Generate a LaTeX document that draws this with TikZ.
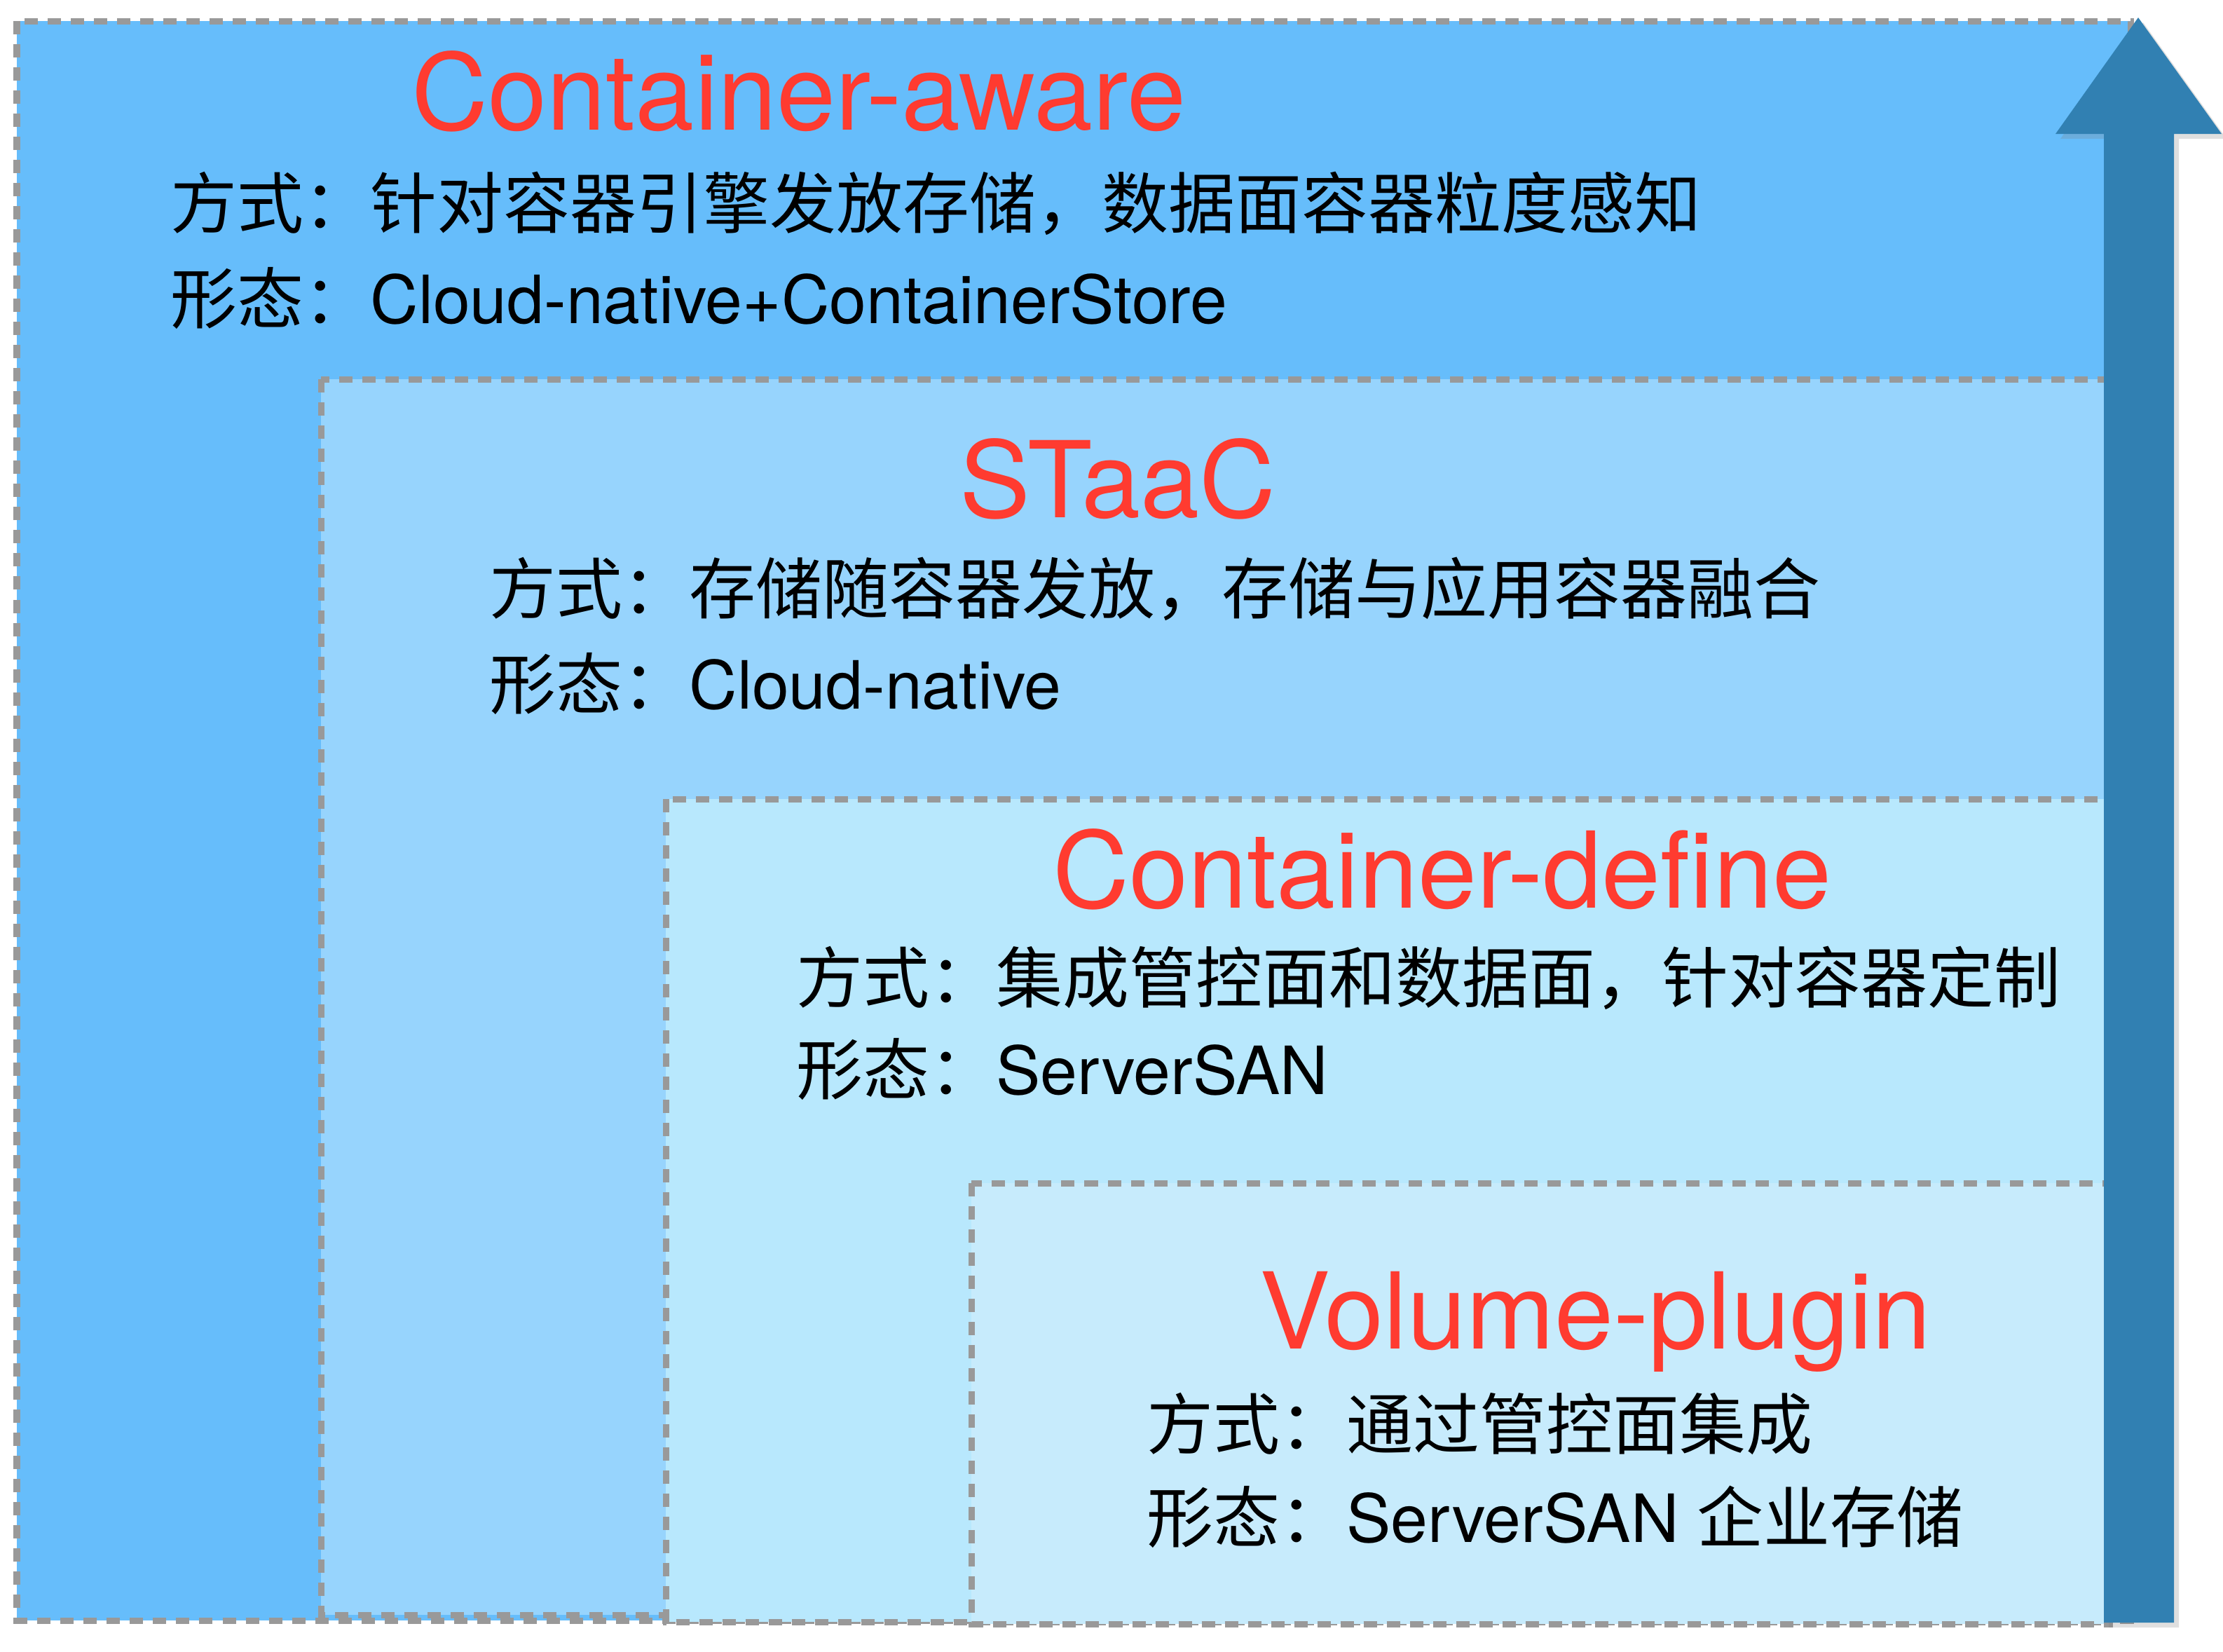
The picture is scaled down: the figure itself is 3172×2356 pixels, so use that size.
\documentclass[tikz,border=0pt]{standalone}
\usepackage{fontspec}
\setmainfont{TeX Gyre Heros}
\newfontfamily\cjk{Noto Sans CJK SC}
\usetikzlibrary{shadows}
\definecolor{awareBlue}{HTML}{66BDFB}
\definecolor{staacBlue}{HTML}{97D4FD}
\definecolor{defineBlue}{HTML}{B8E8FD}
\definecolor{pluginBlue}{HTML}{C7EBFC}
\definecolor{arrowBlue}{HTML}{3180B2}
\definecolor{dashGray}{HTML}{999999}
\definecolor{titleRed}{HTML}{FF3B30}
\tikzset{
  layerbox/.style={draw=dashGray, line width=0.09cm, dash pattern=on 0.19cm off 0.14cm},
  heading/.style={text=titleRed, font=\fontsize{43}{50}\selectfont, inner sep=0pt, anchor=base},
  desc/.style={font=\fontsize{27}{32}\selectfont, inner sep=0pt, anchor=west},
}

\begin{document}
\begin{tikzpicture}[x=0.01cm, y=-0.01cm]
			%%%%% START %%%%%
			\useasboundingbox (0, 0) rectangle (3172, 2356);
			
			\draw[layerbox, fill=awareBlue] (24, 30) rectangle (3040, 2312);
			\draw[layerbox, fill=staacBlue] (458, 541) rectangle (3010, 2304);
			\draw[layerbox, fill=defineBlue] (950, 1140) rectangle (3010, 2314);
			\draw[layerbox, fill=pluginBlue] (1386, 1688) rectangle (3010, 2317);
			
			\node[heading] (awareTitle) at (1140, 185) {Container-aware};
			\node[desc] (awareWay) at (243, 290) {\cjk 方式：针对容器引擎发放存储，数据面容器粒度感知};
			\node[desc] (awareForm) at (243, 425) {{\cjk 形态：}Cloud-native+ContainerStore};
			
			\node[heading] (staacTitle) at (1595, 738) {STaaC};
			\node[desc] (staacWay) at (698, 840) {\cjk 方式：存储随容器发放，存储与应用容器融合};
			\node[desc] (staacForm) at (698, 975) {{\cjk 形态：}Cloud-native};
			
			\node[heading] (defineTitle) at (2058, 1295) {Container-define};
			\node[desc] (defineWay) at (1136, 1395) {\cjk 方式：集成管控面和数据面，针对容器定制};
			\node[desc] (defineForm) at (1136, 1525) {{\cjk 形态：}ServerSAN};
			
			\node[heading] (pluginTitle) at (2277, 1924) {Volume-plugin};
			\node[desc] (pluginWay) at (1636, 2031) {\cjk 方式：通过管控面集成};
			\node[desc] (pluginForm) at (1636, 2164) {{\cjk 形态：}ServerSAN {\cjk 企业存储}};
			
			\fill[arrowBlue, drop shadow={shadow xshift=2pt, shadow yshift=-2pt, opacity=0.25}]
				(3002, 2315) -- (3002, 191) -- (2933, 191) -- (3051, 25)
				-- (3170, 191) -- (3102, 191) -- (3102, 2315) -- cycle;
			
			%%%%% END %%%%%
\end{tikzpicture}
\end{document}
